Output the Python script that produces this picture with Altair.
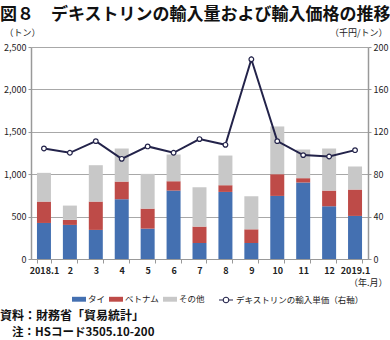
import altair as alt
import pandas as pd

months = ["2018.1", "2", "3", "4", "5", "6", "7", "8", "9", "10", "11", "12", "2019.1"]
thai = [425, 402, 343, 705, 358, 807, 189, 791, 189, 744, 902, 622, 508]
vietnam = [252, 59, 334, 208, 236, 110, 193, 79, 161, 256, 51, 185, 311]
other = [339, 169, 429, 390, 410, 315, 464, 350, 390, 563, 338, 496, 272]
price = [104.3, 100.2, 111.2, 94.5, 106.2, 100.2, 113.1, 107.7, 188.4, 111.2, 98.0, 96.7, 102.7]

series = ["タイ", "ベトナム", "その他"]
colors = ["#4470B1", "#BE4B48", "#C8C8C8"]
line_name = "デキストリンの輸入単価（右軸）"
FONT = "Noto Sans CJK JP"

rows = []
for i, m in enumerate(months):
    for k, (name, vals) in enumerate(zip(series, [thai, vietnam, other])):
        rows.append({"month": m, "series": name, "value": vals[i], "order": k})
bars_df = pd.DataFrame(rows)
line_df = pd.DataFrame({"month": months, "price": price, "name": [line_name] * len(months)})
notes_df = pd.DataFrame({"t": ["資料：財務省「貿易統計」"]})
notes2_df = pd.DataFrame({"t": ["注：HSコード3505.10-200"]})

xenc = alt.X(
    "month:N", sort=months, title="（年.月）",
    scale=alt.Scale(paddingInner=0.46, paddingOuter=0.23),
    axis=alt.Axis(labelAngle=0, tickBand="extent", tickSize=4, tickColor="#999999",
                  domainColor="#999999", labelFontSize=9, labelFontWeight="bold",
                  labelColor="#222222", labelPadding=3, labelFont=FONT,
                  titleAngle=0, titleX=356, titleY=23, titleAlign="right",
                  titleBaseline="middle", titleFontSize=9, titleFontWeight="normal",
                  titleColor="#222222", titleFont=FONT),
)

bars = alt.Chart(bars_df).mark_bar().encode(
    x=xenc,
    y=alt.Y("value:Q", stack="zero", title="（トン）",
            scale=alt.Scale(domain=[0, 2500]),
            axis=alt.Axis(values=[0, 500, 1000, 1500, 2000, 2500], format=",.0f",
                          grid=True, gridColor="#A8A8A8", tickSize=3, tickColor="#999999",
                          domainColor="#999999", domainWidth=1.5, labelFontSize=9,
                          labelColor="#222222", labelPadding=2, labelFont=FONT,
                          titleAngle=0, titleX=-9, titleY=-10, titleAlign="center",
                          titleBaseline="bottom", titleFontSize=9,
                          titleFontWeight="normal", titleColor="#222222", titleFont=FONT)),
    color=alt.Color("series:N", scale=alt.Scale(domain=series, range=colors),
                    legend=alt.Legend(title=None, orient="none", legendX=41, legendY=245,
                                      direction="horizontal",
                                      symbolType="M-1,-0.35H1V0.35H-1Z", symbolSize=196,
                                      symbolStrokeWidth=0, labelFontSize=8.5,
                                      labelColor="#222222", labelFont=FONT,
                                      labelOffset=2, columnPadding=3)),
    order=alt.Order("order:Q"),
)

line = alt.Chart(line_df).mark_line(
    color="#23234A", strokeWidth=2,
    point=alt.OverlayMarkDef(filled=True, fill="white", stroke="#23234A", strokeWidth=1.2, size=22),
).encode(
    x=alt.X("month:N", sort=months),
    y=alt.Y("price:Q", title="（千円/トン）", scale=alt.Scale(domain=[0, 200]),
            axis=alt.Axis(orient="right", values=[0, 40, 80, 120, 160, 200], grid=False,
                          tickSize=3, tickColor="#999999", domainColor="#999999",
                          domainWidth=1.5, labelFontSize=9, labelColor="#222222",
                          labelPadding=2, labelFont=FONT,
                          titleAngle=0, titleX=19, titleY=-10, titleAlign="right",
                          titleBaseline="bottom", titleFontSize=9,
                          titleFontWeight="normal", titleColor="#222222", titleFont=FONT)),
    stroke=alt.Stroke("name:N", scale=alt.Scale(domain=[line_name], range=["#23234A"]),
                      legend=alt.Legend(title=None, orient="none", legendX=187, legendY=245,
                                        symbolType="M-1,0H-0.4M0.4,0H1M0.4,0A0.4,0.4,0,1,1,-0.4,0A0.4,0.4,0,1,1,0.4,0",
                                        symbolSize=196, symbolFillColor="white",
                                        symbolStrokeWidth=1.1, labelFontSize=8.5,
                                        labelColor="#222222", labelFont=FONT, labelOffset=2)),
)

note1 = alt.Chart(notes_df).mark_text(
    align="left", baseline="middle", fontSize=12, font=FONT, fontWeight="bold", color="#111111"
).encode(text="t:N", x=alt.value(-31), y=alt.value(269))

note2 = alt.Chart(notes2_df).mark_text(
    align="left", baseline="middle", fontSize=11.5, font=FONT, fontWeight="bold", color="#111111"
).encode(text="t:N", x=alt.value(-19), y=alt.value(286))

chart = alt.layer(bars, line, note1, note2).resolve_scale(
    y="independent", color="independent"
).properties(
    width=337, height=212,
    padding={"left": 31, "top": 47, "right": 22, "bottom": 81},
    autosize=alt.AutoSizeParams(type="none"),
    title=alt.TitleParams("図８　デキストリンの輸入量および輸入価格の推移", anchor="start",
                          fontSize=17, fontWeight="bold", font=FONT, color="#111111",
                          dx=-31, dy=0, frame="group"),
).configure_view(stroke=None)

chart.save("out.html", embed_options={"renderer": "svg", "actions": False})
